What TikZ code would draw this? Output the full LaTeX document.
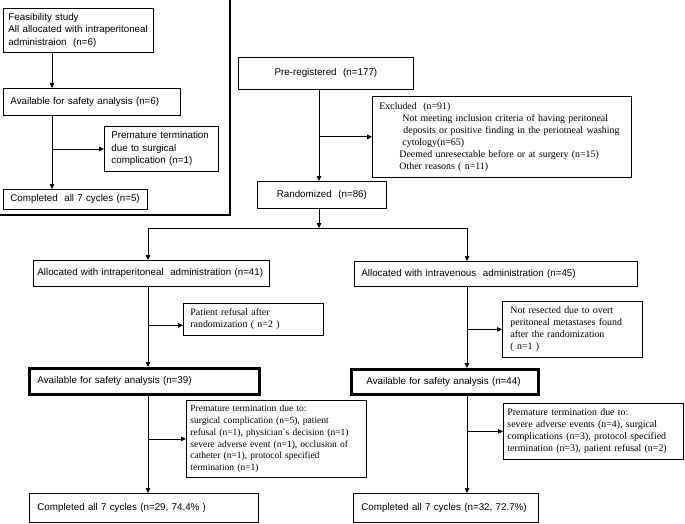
\documentclass[tikz,border=0pt]{standalone}
\usepackage{fontspec}
\setmainfont{Liberation Sans}
\newfontfamily\serf{Liberation Serif}
\usetikzlibrary{calc, positioning, arrows.meta}

\begin{document}
\begin{tikzpicture}[x=1pt, y=-1pt,
    box/.style={draw, line width=0.8pt, anchor=north west, align=left, inner xsep=7pt, inner ysep=1pt,
      font=\fontsize{9.8}{12.5}\selectfont},
    tbox/.style={box, font=\serf\fontsize{9.9}{12}\selectfont},
    heavy/.style={line width=2.8pt},
    arr/.style={line width=0.8pt, -{Triangle[length=5pt,width=4.5pt]}}]
  \useasboundingbox (0,0) rectangle (685,524);
  % feasibility study (top left)
  \node[box, text width=140pt, inner xsep=5pt, minimum height=44pt] (feas) at (3,8) {Feasibility study\\All allocated with intraperitoneal\\administraion\ \ (n=6)};
  \node[box, text width=163pt, minimum height=27pt] (avl0) at (3,88) {Available for safety analysis (n=6)};
  \node[box, text width=100pt, minimum height=45pt] (ptm0) at (104,126) {Premature termination\\due to surgical\\complication (n=1)};
  \node[box, text width=130pt, minimum height=20pt] (comp0) at (3,189) {Completed\ \ all 7 cycles (n=5)};
  \draw[heavy] (230,0) |- (0,215);
  \coordinate (c0) at (52,0);
  \draw[arr] (feas.south -| c0) -- (avl0.north -| c0);
  \draw[arr] (avl0.south -| c0) -- (comp0.north -| c0);
  \draw[arr] (c0 |- ptm0.west) -- (ptm0.west);
  % registration
  \node[box, align=center, text width=161pt, minimum height=32pt] (pre) at (238,57) {Pre-registered\ \ (n=177)};
  \node[tbox, text width=245pt, minimum height=81pt] (excl) at (372,96) {Excluded\ \ (n=91)\\
    \hspace*{23pt}Not meeting inclusion criteria of having peritoneal\\
    \hspace*{24pt}deposits or positive finding in the periotneal washing\\
    \hspace*{23pt}cytology(n=65)\\
    \hspace*{20pt}Deemed unresectable before or at surgery (n=15)\\
    \hspace*{20pt}Other reasons ( n=11)};
  \node[box, align=center, text width=115pt, minimum height=27pt] (rand) at (257,181) {Randomized\ \ (n=86)};
  \coordinate (c1) at (319,0);
  \coordinate (split) at (319,228);
  \draw[arr] (pre.south -| c1) -- (rand.north -| c1);
  \draw[arr] (c1 |- excl.west) -- (excl.west);
  \draw[arr] (rand.south -| c1) -- (split);
  % intraperitoneal arm
  \node[box, text width=228pt, inner xsep=4pt, minimum height=26pt] (aip) at (33,260) {Allocated with intraperitoneal\ \ administration (n=41)};
  \node[tbox, text width=126pt, minimum height=32pt] (pref) at (183,303) {Patient refusal after\\randomization ( n=2 )};
  \node[box, heavy, text width=214pt, inner xsep=8pt, minimum height=26pt] (avl1) at (28,367) {Available for safety analysis (n=39)};
  \node[tbox, text width=172pt, inner xsep=4pt, minimum height=77pt, font=\serf\fontsize{9.5}{11.8}\selectfont] (ptm1) at (186,400) {Premature termination due to:\\surgical complication (n=5), patient\\refusal (n=1), physician`s decision (n=1)\\severe adverse event (n=1), occlusion of\\catheter (n=1), protocol specified\\termination (n=1)};
  \node[box, text width=213pt, inner xsep=8pt, minimum height=29pt] (comp1) at (29,493) {Completed all 7 cycles (n=29, 74.4\% )};
  \coordinate (c2) at (148,0);
  \draw[arr] (split) -| (aip.north -| c2);
  \draw[arr] (aip.south -| c2) -- (avl1.north -| c2);
  \draw[arr] ([yshift=-6pt]c2 |- pref.west) -- ([yshift=-6pt]pref.west);
  \draw[arr] (avl1.south -| c2) -- (comp1.north -| c2);
  \draw[arr] (c2 |- ptm1.west) -- (ptm1.west);
  % intravenous arm
  \node[box, text width=269pt, minimum height=25pt] (aiv) at (354,261) {Allocated with intravenous\ \ administration (n=45)};
  \node[tbox, text width=124pt, inner xsep=8pt, minimum height=56pt] (nres) at (502,301) {Not resected due to overt\\peritoneal metastases found\\after the randomization\\( n=1 )};
  \node[box, heavy, text width=173pt, minimum height=25pt] (avl2) at (350,368) {\hspace*{8pt}Available for safety analysis (n=44)};
  \node[tbox, text width=172pt, inner xsep=4pt, minimum height=56pt] (ptm2) at (503,403) {Premature termination due to:\\severe adverse events (n=4), surgical\\complications (n=3), protocol specified\\termination (n=3), patient refusal (n=2)};
  \node[box, text width=169pt, inner xsep=8pt, minimum height=29pt] (comp2) at (353,493) {Completed all 7 cycles (n=32, 72.7\%)};
  \coordinate (c3) at (467,0);
  \draw[arr] (split) -| (aiv.north -| c3);
  \draw[arr] (aiv.south -| c3) -- (avl2.north -| c3);
  \draw[arr] (c3 |- nres.west) -- (nres.west);
  \draw[arr] (avl2.south -| c3) -- (comp2.north -| c3);
  \draw[arr] (c3 |- ptm2.west) -- (ptm2.west);
\end{tikzpicture}
\end{document}
